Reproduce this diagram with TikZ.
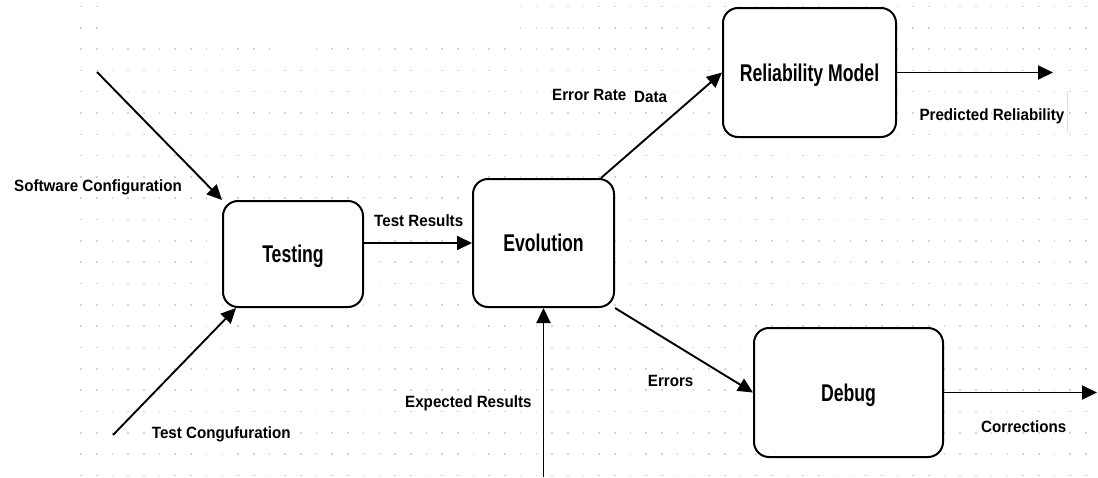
\documentclass[tikz,border=0pt]{standalone}
\usepackage{fontspec}
\usetikzlibrary{arrows.meta}
\newfontfamily\smallfont{Liberation Sans}[FakeStretch=0.93]
\newfontfamily\boxfont{Liberation Sans}[FakeStretch=0.73]

\begin{document}
\begin{tikzpicture}[x=1pt,y=-1pt,
  stage/.style={draw, line width=2pt, fill=white, rounded corners=15pt,
    inner sep=0pt, text height=17.3pt, text depth=0pt,
    font=\boxfont\bfseries\fontsize{24.2}{28}\selectfont},
  lab/.style={inner sep=0pt, anchor=base west,
    font=\smallfont\bfseries\fontsize{16.3}{19}\selectfont},
  flow/.style={line width=1.9pt, -{Triangle[length=15pt,width=14pt]}},
  griddot/.style={fill=black!17}]

% canvas
\useasboundingbox (0,0) rectangle (1098,477);
\fill[white] (0,0) rectangle (1098,477);

% dotted drawing grid
\foreach \i in {0,...,64}
  \foreach \j in {0,...,22}
    \fill[griddot] ({81+15.7*\i-0.8},{8+21.32*\j-0.8}) rectangle +(1.6,-1.6);
\fill[white] (106,0) rectangle (512,40);
\fill[white] (278,44) rectangle (309,57);

% process stages
\node[stage, minimum width=140pt, minimum height=106pt] (testing)   at (293,254)    {Testing};
\node[stage, minimum width=141pt, minimum height=128pt] (evolution) at (543.5,243)  {Evolution};
\node[stage, minimum width=173pt, minimum height=129pt] (model)     at (809.5,72.5) {Reliability Model};
\node[stage, minimum width=189pt, minimum height=129pt] (debug)     at (848.5,392.5){Debug};

% free ends of the connectors
\coordinate (swin)  at (97,72);
\coordinate (tcin)  at (113,435);
\coordinate (expin) at (543.5,477);
\coordinate (relout) at (1053,72.5);
\coordinate (corout) at (1097,392.5);

% connectors
\draw[flow] (swin) -- (testing.north west);
\draw[flow] (tcin) -- ([xshift=14pt]testing.south west);
\draw[flow] (testing.east |- evolution.west) -- (evolution.west);
\draw[flow] (expin) -- (evolution.south);
\draw[flow] ([xshift=-14pt]evolution.north east) -- (model.west);
\draw[flow] (evolution.south east) -- (debug.west);
\draw[flow] (model.east) -- (relout);
\draw[flow] (debug.east) -- (corout);

% labels
\node[lab] (swlabel) at (14,191.7)    {Software Configuration};
\node[lab] (tclabel) at (151.7,438.3) {Test Congufuration};
\node[lab] (trlabel) at (374,226)     {Test Results};
\node[lab] (exlabel) at (405,407.5)   {Expected Results};
\node[lab] (erlabel) at (552,100.7)   {Error Rate};
\node[lab] (dtlabel) at (634,102)     {Data};
\node[lab] (prlabel) at (919.3,120.7) {Predicted Reliability};
\node[lab] (eslabel) at (647.7,386)   {Errors};
\node[lab] (colabel) at (981,432.7)   {Corrections};

% edge of the label frame
\draw[black!12, line width=0.8pt] (1067,91) -- (1067,133);
\end{tikzpicture}
\end{document}
